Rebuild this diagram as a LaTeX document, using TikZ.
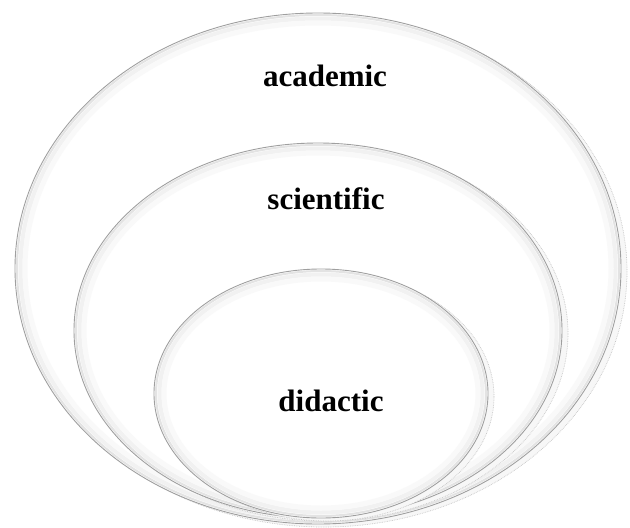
\documentclass[tikz,border=0pt]{standalone}
\usepackage{fontspec}
\setmainfont{Liberation Serif}
\newcommand\glowellipse[4]{%
  % shadow
  \draw[shadowline] (#1+6,#2+3) ellipse [x radius=#3pt, y radius=#4pt];
  % body
  \draw[bodyline] (#1,#2) ellipse [x radius=#3pt, y radius=#4pt];
  % inner glow
  \draw[glowA] (#1,#2) ellipse [x radius={(#3-2)*1pt}, y radius={(#4-2)*1pt}];
  \draw[glowB] (#1,#2) ellipse [x radius={(#3-5.5)*1pt}, y radius={(#4-5.5)*1pt}];
  \draw[glowC] (#1,#2) ellipse [x radius={(#3-10)*1pt}, y radius={(#4-10)*1pt}];
}
\begin{document}
\begin{tikzpicture}[x=1pt,y=-1pt,
  shadowline/.style={draw=gray!45, fill=gray!6, line width=0.7pt, densely dotted},
  bodyline/.style={draw=gray!75, fill=white, line width=0.9pt},
  glowA/.style={draw=gray!22, line width=2pt},
  glowB/.style={draw=gray!11, line width=4pt},
  glowC/.style={draw=gray!5, line width=5pt},
  label/.style={font=\fontsize{31}{36}\selectfont\bfseries, anchor=base, inner sep=0pt}]
\useasboundingbox (0,0) rectangle (630,528);
\fill[white] (0,0) rectangle (630,528);
\glowellipse{318}{268.5}{303}{255.5}
\glowellipse{318}{330.5}{244}{187.5}
\glowellipse{321}{393.5}{167}{124.5}
\node[label] (academic) at (325,86) {academic};
\node[label] (scientific) at (326,209) {scientific};
\node[label] (didactic) at (331,411) {didactic};
\end{tikzpicture}
\end{document}
